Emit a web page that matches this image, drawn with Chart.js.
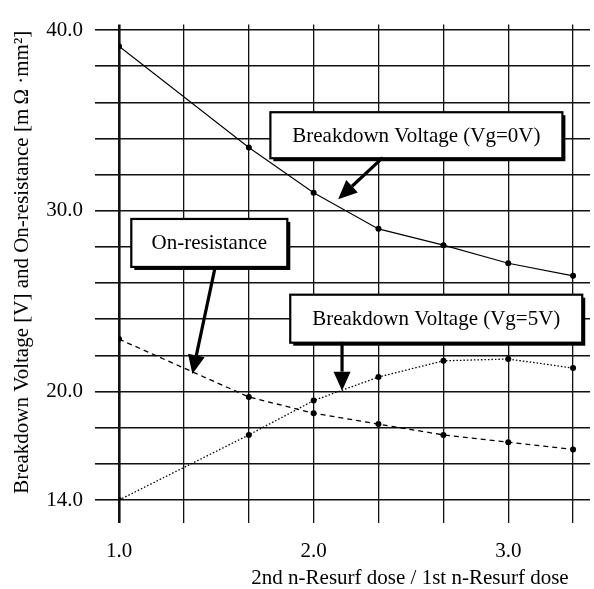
<!DOCTYPE html>
<html lang="en">
<head>
  <meta charset="UTF-8" />
  <title>Breakdown voltage and on-resistance vs. n-Resurf dose ratio</title>
  <script src="https://cdn.jsdelivr.net/npm/chart.js"></script>
  <style>
    html, body { margin: 0; padding: 0; background: #fff; }
    canvas { display: block; }
  </style>
</head>
<body>
  <canvas id="chart" width="594" height="589"></canvas>

  <script>
    // dose ratio (2nd / 1st n-Resurf) and the three measured curves
    const doses = [1.0, 1.667, 2.0, 2.333, 2.667, 3.0, 3.333];
    const bvVg0 = [39.1, 33.5, 31.0, 29.0, 28.1, 27.1, 26.4];
    const bvVg5 = [14.0, 17.6, 19.5, 20.8, 21.7, 21.8, 21.3];
    const onRes = [22.9, 19.7, 18.8, 18.2, 17.6, 17.2, 16.8];

    // grid lines and which of them carry a label
    const xGrid = [1.0, 1.333, 1.667, 2.0, 2.333, 2.667, 3.0, 3.333];
    const yGrid = [14, 16, 18, 20, 22, 24, 26, 28, 30, 32, 34, 36, 38, 40];
    const xTickLabels = [1.0, 2.0, 3.0];
    const yTickLabels = [14, 20, 30, 40];

    const xTitle = '2nd n-Resurf dose / 1st n-Resurf dose';
    const yTitle = 'Breakdown Voltage [V] and On-resistance [m\u2009Ω ·mm²]';

    // callout boxes and arrows, anchored in data units
    const notes = [
      { text: 'Breakdown Voltage (Vg=0V)', x: 2.528, y: 34.18, w: 292, h: 46,
        from: [2.355, 32.94], to: [2.126, 30.64] },
      { text: 'On-resistance', x: 1.464, y: 28.22, w: 156, h: 48,
        from: [1.494, 26.88], to: [1.377, 20.97] },
      { text: 'Breakdown Voltage (Vg=5V)', x: 2.630, y: 24.03, w: 292, h: 48,
        from: [2.146, 22.75], to: [2.146, 20.05] }
    ];

    const FONT = '"Liberation Serif", "Times New Roman", serif';
    Chart.defaults.font.family = FONT;
    Chart.defaults.font.size = 21;
    Chart.defaults.color = '#000';

    const pts = vals => doses.map((d, i) => ({ x: d, y: vals[i] }));
    const has = (list, v) => list.some(t => Math.abs(t - v) < 1e-6);

    function arrow(ctx, x1, y1, x2, y2) {
      const ang = Math.atan2(y2 - y1, x2 - x1);
      const len = 19, half = 8.5;
      const bx = x2 - len * Math.cos(ang), by = y2 - len * Math.sin(ang);
      ctx.beginPath();
      ctx.lineWidth = 3.2;
      ctx.moveTo(x1, y1);
      ctx.lineTo(bx, by);
      ctx.stroke();
      ctx.beginPath();
      ctx.moveTo(x2, y2);
      ctx.lineTo(bx + half * Math.sin(ang), by - half * Math.cos(ang));
      ctx.lineTo(bx - half * Math.sin(ang), by + half * Math.cos(ang));
      ctx.closePath();
      ctx.fill();
    }

    const callouts = {
      id: 'callouts',
      afterDraw(chart) {
        const ctx = chart.ctx;
        const xs = chart.scales.x, ys = chart.scales.y;
        ctx.save();
        ctx.strokeStyle = '#000';
        ctx.fillStyle = '#000';
        ctx.font = '21px ' + FONT;
        ctx.textAlign = 'center';
        ctx.textBaseline = 'middle';
        notes.forEach(n => {
          const cx = xs.getPixelForValue(n.x), cy = ys.getPixelForValue(n.y);
          const l = cx - n.w / 2, t = cy - n.h / 2;
          // shadow on right and bottom edges
          ctx.fillRect(l + 3, t + 3, n.w, n.h);
          ctx.fillStyle = '#fff';
          ctx.fillRect(l, t, n.w, n.h);
          ctx.lineWidth = 2.2;
          ctx.strokeRect(l, t, n.w, n.h);
          ctx.fillStyle = '#000';
          ctx.fillText(n.text, cx, cy + 1);
          arrow(ctx,
            xs.getPixelForValue(n.from[0]), ys.getPixelForValue(n.from[1]),
            xs.getPixelForValue(n.to[0]), ys.getPixelForValue(n.to[1]));
        });
        ctx.fillText(xTitle, 410, 578);
        ctx.restore();
      }
    };

    new Chart(document.getElementById('chart'), {
      type: 'line',
      data: {
        datasets: [
          {
            label: 'Breakdown Voltage (Vg=0V)',
            data: pts(bvVg0),
            borderColor: '#000',
            borderWidth: 1.1,
            pointRadius: 3,
            pointBackgroundColor: '#000',
            pointBorderWidth: 0
          },
          {
            label: 'On-resistance',
            data: pts(onRes),
            borderColor: '#000',
            borderWidth: 1.3,
            borderDash: [5, 4],
            pointRadius: 3,
            pointBackgroundColor: '#000',
            pointBorderWidth: 0
          },
          {
            label: 'Breakdown Voltage (Vg=5V)',
            data: pts(bvVg5),
            borderColor: '#000',
            borderWidth: 1.3,
            borderDash: [1.5, 2],
            pointRadius: 3,
            pointBackgroundColor: '#000',
            pointBorderWidth: 0
          }
        ]
      },
      options: {
        responsive: false,
        animation: false,
        layout: { padding: { top: 10, right: 0, bottom: 0, left: 0 } },
        plugins: {
          legend: { display: false },
          tooltip: { enabled: false }
        },
        scales: {
          x: {
            type: 'linear',
            min: 1.0,
            max: 3.42,
            afterBuildTicks: s => { s.ticks = xGrid.map(v => ({ value: v })); },
            afterFit: s => { s.height = 89; },
            border: { display: false },
            grid: {
              color: '#111',
              lineWidth: c => (c.tick && c.tick.value === 1.0 ? 2.6 : 1.3),
              tickLength: 23
            },
            ticks: {
              autoSkip: false,
              maxRotation: 0,
              padding: 16,
              callback: v => (has(xTickLabels, v) ? v.toFixed(1) : '')
            }
          },
          y: {
            type: 'linear',
            min: 14,
            max: 40.3,
            afterBuildTicks: s => { s.ticks = yGrid.map(v => ({ value: v })); },
            afterFit: s => { s.width = 119; },
            border: { display: false },
            grid: {
              color: '#111',
              lineWidth: 1.6,
              tickLength: 24
            },
            ticks: {
              autoSkip: false,
              padding: 12,
              callback: v => (has(yTickLabels, v) ? v.toFixed(1) : '')
            },
            title: {
              display: true,
              text: yTitle,
              padding: { top: 10, bottom: 0 }
            }
          }
        }
      },
      plugins: [callouts]
    });
  </script>
</body>
</html>
